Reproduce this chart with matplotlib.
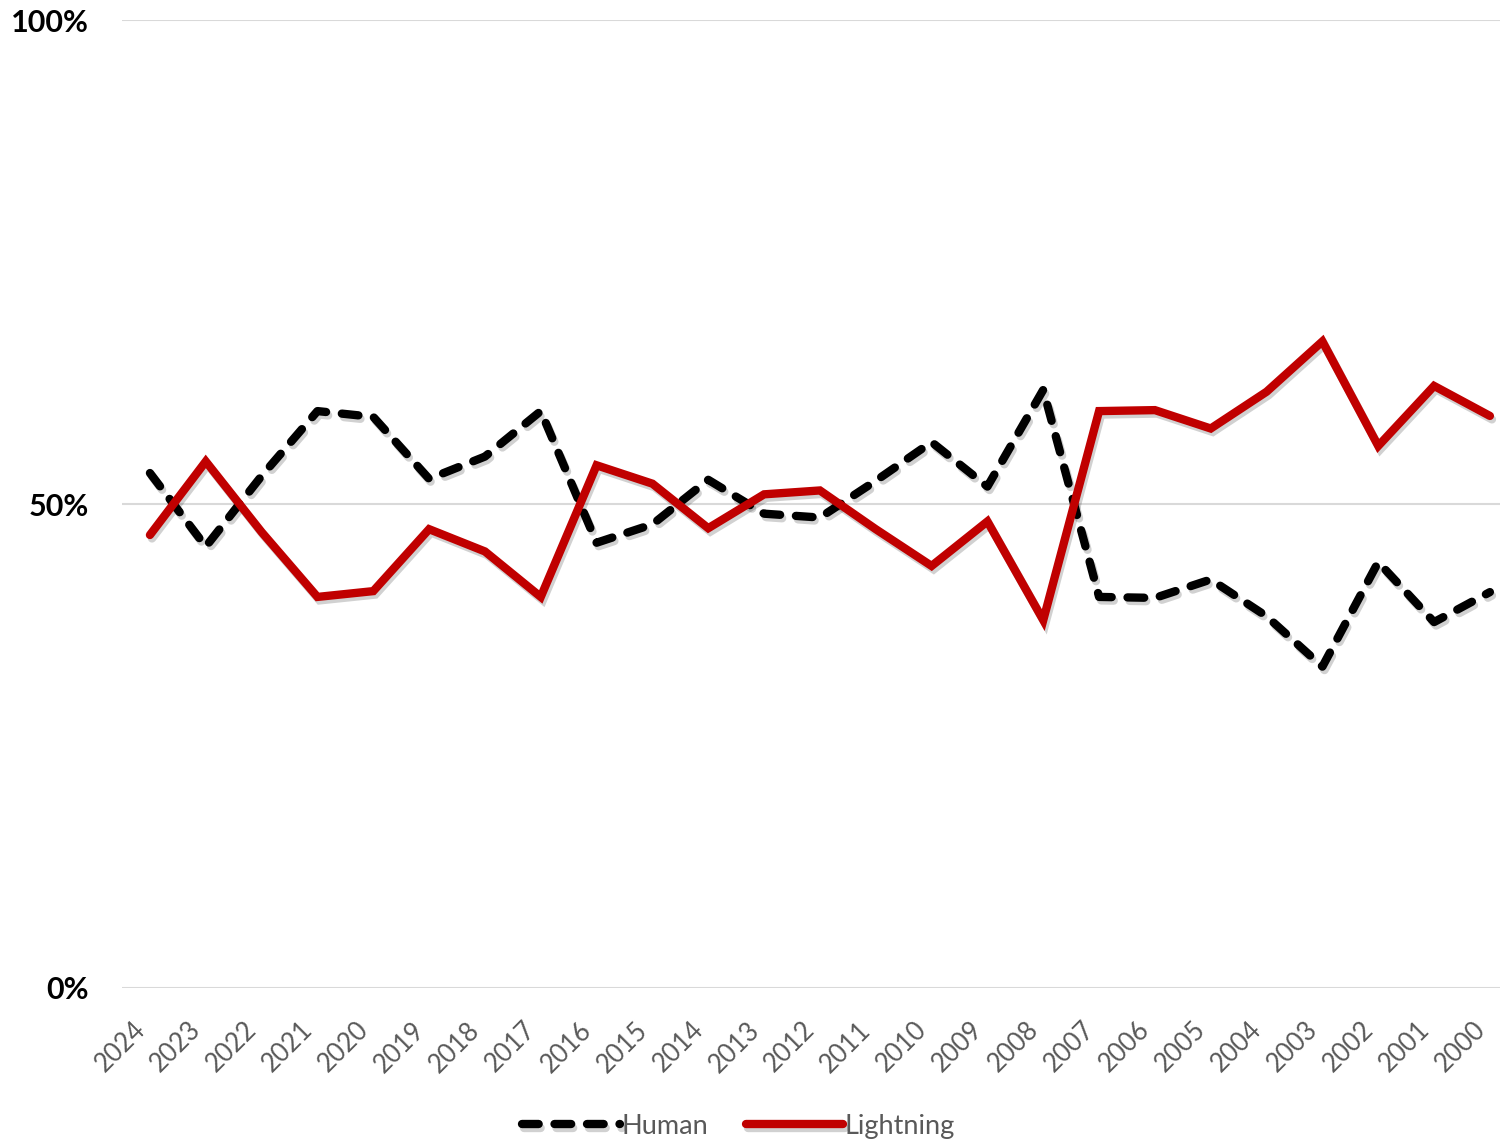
import matplotlib.pyplot as plt
import matplotlib.patheffects as pe

# Share of fires by cause, years shown newest to oldest
years = ['2024', '2023', '2022', '2021', '2020', '2019', '2018', '2017', '2016',
         '2015', '2014', '2013', '2012', '2011', '2010', '2009', '2008', '2007',
         '2006', '2005', '2004', '2003', '2002', '2001', '2000']
human = [53.2, 45.6, 52.9, 59.6, 59.0, 52.6, 54.9, 59.6, 46.0, 47.9, 52.5, 49.0,
         48.6, 52.4, 56.4, 51.8, 61.8, 40.4, 40.3, 42.2, 38.4, 33.2, 44.0, 37.8, 40.9]
lightning = [46.8, 54.4, 47.1, 40.4, 41.0, 47.4, 45.1, 40.4, 54.0, 52.1, 47.5, 51.0,
             51.4, 47.4, 43.6, 48.2, 38.0, 59.6, 59.7, 57.8, 61.6, 66.8, 56.0, 62.2, 59.1]

plt.rcParams['font.family'] = ['Lato', 'DejaVu Sans']

fig = plt.figure(figsize=(15.01, 11.39), dpi=100)
ax = fig.add_axes([0.0813, 0.1326, 0.918, 0.8498])

x = list(range(len(years)))
shadow = [pe.SimpleLineShadow(offset=(1.5, -2.5), alpha=0.18, shadow_color='black'),
          pe.Normal()]

ax.plot(x, human, color='black', lw=6, linestyle=(0, (2.0, 1.9)),
        dash_capstyle='round', solid_joinstyle='round', label='Human',
        path_effects=shadow, zorder=3)
ax.plot(x, lightning, color='#c00000', lw=6, solid_capstyle='round',
        solid_joinstyle='miter', label='Lightning', path_effects=shadow, zorder=4)

ax.set_ylim(0, 100)
ax.set_xlim(-0.5, 24.18)
ax.set_yticks([0, 50, 100])
ax.set_yticklabels(['0%', '50%', '100%'], fontsize=22, fontweight='bold', color='black')
ax.set_xticks(x)
ax.set_xticklabels(years, rotation=45, ha='right', va='top',
                   fontsize=18.5, color='#595959')
ax.tick_params(axis='both', length=0)
ax.tick_params(axis='y', pad=24)
ax.tick_params(axis='x', pad=21)
ax.grid(axis='y', color='#d9d9d9', lw=1.5)
ax.set_axisbelow(True)
for s in ax.spines.values():
    s.set_visible(False)

fig.legend(loc='lower center', bbox_to_anchor=(0.492, -0.021), ncol=2, frameon=False,
           fontsize=19.5, labelcolor='#595959', handlelength=3.6, handletextpad=0.05,
           columnspacing=1.4)

fig.savefig('out.png', dpi=100)
